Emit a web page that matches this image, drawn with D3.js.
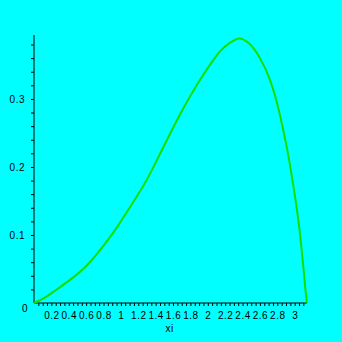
<!DOCTYPE html>
<html><head><meta charset="utf-8">
<script src="https://cdn.jsdelivr.net/npm/d3@7"></script>
<style>
html,body{margin:0;padding:0;background:#00ffff;}
svg{display:block;}
text{font-family:"Liberation Sans",Arial,sans-serif;font-size:10px;fill:#000;letter-spacing:0.5px;}
</style></head>
<body>
<script>
const xiValues = [0, 0.115, 0.23, 0.383, 0.575, 0.767, 0.958, 1.105, 1.297, 1.488, 1.680, 1.872, 2.063, 2.14, 2.25, 2.36, 2.48, 2.60, 2.71, 2.78, 2.86, 2.91, 2.98, 3.056, 3.106, 3.13, 3.1416];
const yValues  = [0, 0.007, 0.017, 0.031, 0.051, 0.079, 0.112, 0.141, 0.181, 0.229, 0.277, 0.320, 0.357, 0.370, 0.382, 0.389, 0.381, 0.360, 0.330, 0.302, 0.259, 0.228, 0.176, 0.107, 0.044, 0.012, 0];
const xTickLabels = [0.2,0.4,0.6,0.8,1,1.2,1.4,1.6,1.8,2,2.2,2.4,2.6,2.8,3];
const yTickLabels = [0.1,0.2,0.3];
const xLabel = "xi";

const W = 342, H = 342;
const svg = d3.select("body").append("svg").attr("width", W).attr("height", H);
svg.append("rect").attr("width", W).attr("height", H).attr("fill", "#00ffff");

const x = d3.scaleLinear().domain([0, Math.PI]).range([34, 307]);
const y = d3.scaleLinear().domain([0, 0.394]).range([303, 35]);

const xMinor = d3.range(1, 63).map(i => i * 0.05);
const yMinor = d3.range(1, 20).map(i => +(i * 0.02).toFixed(2));

const gx = svg.append("g").attr("transform", `translate(0,${y(0)})`)
  .call(d3.axisBottom(x).tickValues(xMinor).tickSize(3).tickSizeOuter(0).tickFormat(""));
gx.select(".domain").attr("d", `M${x(0)},0H${x(Math.PI)}`);
const gy = svg.append("g").attr("transform", `translate(${x(0)},0)`)
  .call(d3.axisLeft(y).tickValues(yMinor).tickSize(3).tickSizeOuter(0).tickFormat(""));
gy.select(".domain").attr("d", `M0,${y(0)}V${y(0.394)}`);
svg.selectAll(".domain").attr("stroke", "#000");
svg.selectAll(".tick line").attr("stroke", "#000");

const gxl = svg.append("g").attr("transform", `translate(0,${y(0)})`)
  .call(d3.axisBottom(x).tickValues(xTickLabels).tickSize(0).tickPadding(9).tickFormat(d => String(d)));
gxl.select(".domain").remove();
const gyl = svg.append("g").attr("transform", `translate(${x(0)},0)`)
  .call(d3.axisLeft(y).tickValues(yTickLabels).tickSize(0).tickPadding(9).tickFormat(d => String(d)));
gyl.select(".domain").remove();
svg.selectAll("g text").attr("font-family", null).attr("font-size", null).attr("fill", "#000");

svg.append("text").attr("x", x(0) - 6).attr("y", y(0) + 9).attr("text-anchor", "end").text("0");
svg.append("text").attr("x", x(1.56)).attr("y", 332).attr("text-anchor", "middle").text(xLabel);

const line = d3.line().x((d, i) => x(xiValues[i])).y((d, i) => y(yValues[i])).curve(d3.curveMonotoneX);
svg.append("path").datum(yValues).attr("d", line)
  .attr("fill", "none").attr("stroke", "#10e000").attr("stroke-width", 2);
</script>
</body></html>
